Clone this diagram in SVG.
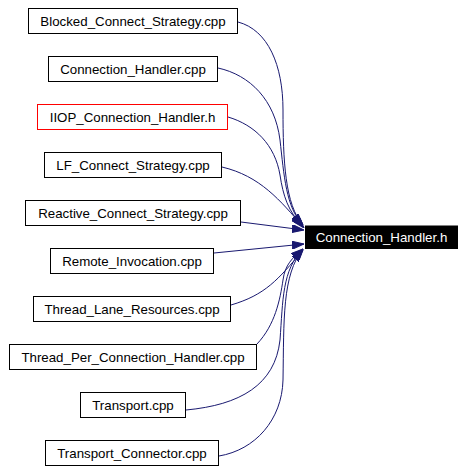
<svg xmlns="http://www.w3.org/2000/svg" width="466" height="471" viewBox="0 0 466 471">
<style>
.box{fill:#fff;stroke:#000;stroke-width:1}
.red{stroke:#ff0000}
.lbl{font-family:"Liberation Sans",Arial,Helvetica,sans-serif;font-size:13.3px;text-anchor:middle;fill:#000}
.wlbl{fill:#fff}
.edge{fill:none;stroke:#191970;stroke-width:1;marker-end:url(#arr)}
</style>
<defs>
<marker id="arr" viewBox="0 0 12 8" markerWidth="12" markerHeight="8" markerUnits="userSpaceOnUse" refX="12" refY="4" orient="auto">
<path d="M0,0 L12,4 L0,8 Z" fill="#191970" stroke="#191970"/>
</marker>
</defs>
<rect width="466" height="471" fill="#fff"/>
<g id="edges">
<path class="edge" d="M238,22 C268,30 283,65 283,110 C283,160 285,205 303,225"/>
<path class="edge" d="M218,68 C250,75 275,100 280,140 C284,175 286,208 303,225"/>
<path class="edge" d="M228,117 C255,125 275,145 280,175 C283,195 288,212 303,226"/>
<path class="edge" d="M222,167 C260,176 280,200 304,228"/>
<path class="edge" d="M241,222 L304,230"/>
<path class="edge" d="M214,253 L304,244"/>
<path class="edge" d="M231,305 C265,295 278,280 303,250"/>
<path class="edge" d="M257,344 C275,325 280,300 283,280 C285,265 292,258 303,249"/>
<path class="edge" d="M186,410 C240,405 275,385 280,340 C283,300 282,270 303,249"/>
<path class="edge" d="M219,456 C255,450 282,420 283,380 C284,320 282,275 303,249"/>
</g>
<g id="n1"><rect class="box" x="28.5" y="8.5" width="209" height="25"/><text class="lbl" x="133" y="25.5">Blocked_Connect_Strategy.cpp</text></g>
<g id="n2"><rect class="box" x="48.5" y="56.5" width="169" height="25"/><text class="lbl" x="133" y="73.5">Connection_Handler.cpp</text></g>
<g id="n3"><rect class="box red" x="37.5" y="104.5" width="190" height="25"/><text class="lbl" x="132.5" y="121.5">IIOP_Connection_Handler.h</text></g>
<g id="n4"><rect class="box" x="44.5" y="152.5" width="177" height="25"/><text class="lbl" x="133" y="169.5">LF_Connect_Strategy.cpp</text></g>
<g id="n5"><rect class="box" x="25.5" y="200.5" width="215" height="25"/><text class="lbl" x="133" y="217.5">Reactive_Connect_Strategy.cpp</text></g>
<g id="n6"><rect class="box" x="50.5" y="248.5" width="163" height="25"/><text class="lbl" x="132" y="265.5">Remote_Invocation.cpp</text></g>
<g id="n7"><rect class="box" x="33.5" y="296.5" width="197" height="25"/><text class="lbl" x="132" y="313.5">Thread_Lane_Resources.cpp</text></g>
<g id="n8"><rect class="box" x="9.5" y="344.5" width="247" height="25"/><text class="lbl" x="133" y="361.5">Thread_Per_Connection_Handler.cpp</text></g>
<g id="n9"><rect class="box" x="80.5" y="392.5" width="105" height="25"/><text class="lbl" x="133" y="409.5">Transport.cpp</text></g>
<g id="n10"><rect class="box" x="45.5" y="440.5" width="173" height="25"/><text class="lbl" x="132" y="457.5">Transport_Connector.cpp</text></g>
<g id="target"><rect x="305" y="225.5" width="153" height="23.5" fill="#000"/><text class="lbl wlbl" x="381.5" y="241.5">Connection_Handler.h</text></g>
</svg>
